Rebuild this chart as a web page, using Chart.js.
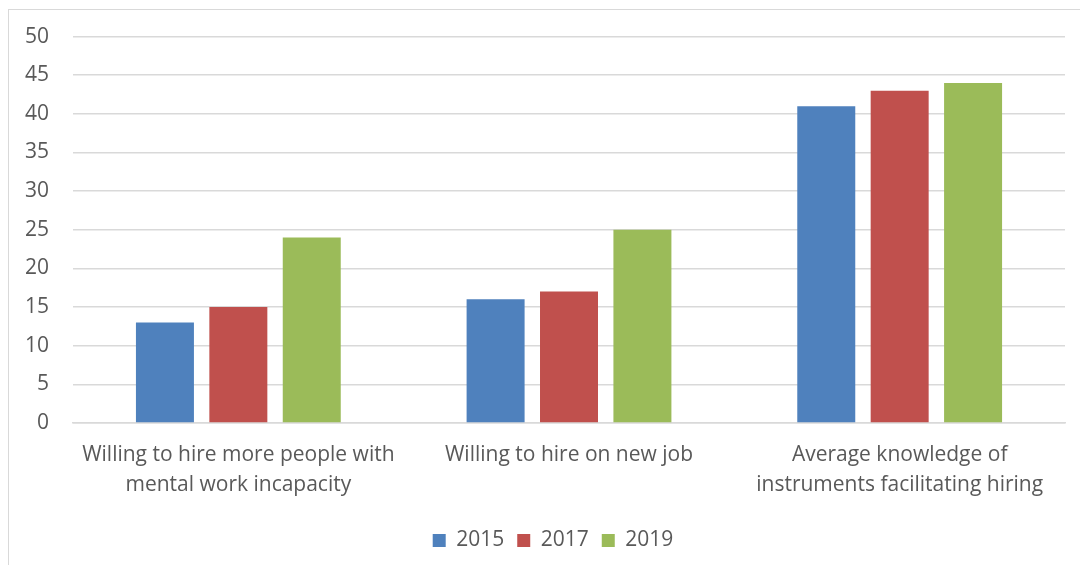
<!DOCTYPE html>
<html>
<head>
<meta charset="utf-8">
<script src="https://cdn.jsdelivr.net/npm/chart.js@4"></script>
<style>
  html, body { margin: 0; padding: 0; background: #fff; }
  #wrap { position: relative; width: 1080px; height: 565px; overflow: hidden; }
  #frame { position: absolute; left: 8px; top: 9px; width: 1200px; height: 700px;
           border-left: 1.5px solid #d9d9d9; border-top: 1.5px solid #d9d9d9; }
  canvas { position: absolute; left: 0; top: 0; }
</style>
</head>
<body>
<div id="wrap">
  <div id="frame"></div>
  <canvas id="myChart" width="1080" height="565"></canvas>
</div>
<script>
const categories = [
  ['Willing to hire more people with', 'mental work incapacity'],
  'Willing to hire on new job',
  ['Average knowledge of', 'instruments facilitating hiring']
];
const years = ['2015', '2017', '2019'];
const values2015 = [13, 16, 41];
const values2017 = [15, 17, 43];
const values2019 = [24, 25, 44];
const colors = ['#4F81BD', '#C0504D', '#9BBB59'];

const fontFamily = '"Open Sans", "Noto Sans", sans-serif';
const textColor = '#595959';

// nudge the legend a bit right, like in the original
const legendShift = {
  id: 'legendShift',
  afterLayout(chart) {
    chart.legend.left += 20;
    chart.legend.right += 20;
    chart.legend.adjustHitBoxes && chart.legend.adjustHitBoxes();
  }
};

const ctx = document.getElementById('myChart').getContext('2d');
const myChart = new Chart(ctx, {
  type: 'bar',
  data: {
    labels: categories,
    datasets: [values2015, values2017, values2019].map((vals, i) => ({
      label: years[i],
      data: vals,
      backgroundColor: colors[i],
      categoryPercentage: 0.666,
      barPercentage: 0.79
    }))
  },
  options: {
    responsive: false,
    animation: false,
    layout: { padding: { left: 1, right: 15, top: 32, bottom: 4 } },
    scales: {
      x: {
        grid: { display: false, drawTicks: false },
        border: { color: '#d9d9d9', width: 1.5 },
        ticks: { color: textColor, font: { family: fontFamily, size: 21, lineHeight: 1.43 }, padding: 17, maxRotation: 0, autoSkip: false }
      },
      y: {
        min: 0,
        max: 50,
        grid: { color: '#d9d9d9', lineWidth: 1.5, drawTicks: false },
        border: { display: false },
        ticks: { stepSize: 5, color: textColor, font: { family: fontFamily, size: 21 }, padding: 24 }
      }
    },
    plugins: {
      legend: {
        position: 'bottom',
        labels: { boxWidth: 13, boxHeight: 13, color: textColor, font: { family: fontFamily, size: 21 }, padding: 13 }
      },
      tooltip: { enabled: false }
    }
  },
  plugins: [legendShift]
});
</script>
</body>
</html>
